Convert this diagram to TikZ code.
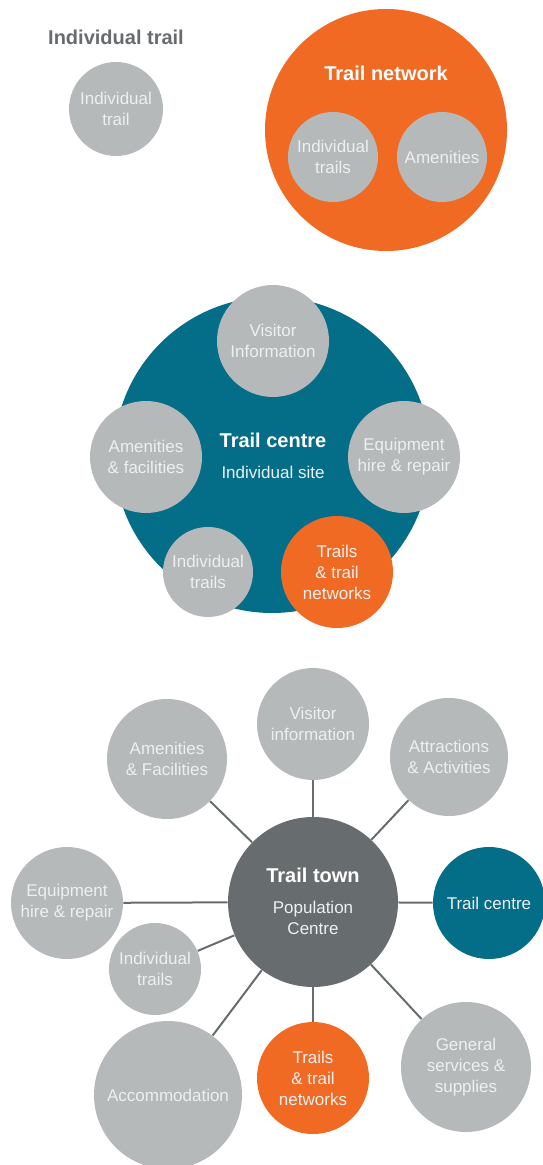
\documentclass[tikz,border=0pt]{standalone}
\usepackage{fontspec}
\setmainfont{Liberation Sans}
\definecolor{bubblegray}{RGB}{181,185,186}
\definecolor{trailorange}{RGB}{241,106,35}
\definecolor{centreteal}{RGB}{4,109,136}
\definecolor{towngray}{RGB}{103,109,110}
\definecolor{softwhite}{RGB}{238,240,240}

\begin{document}
\begin{tikzpicture}[x=0.5pt,y=-0.5pt,
  bubble/.style={circle,fill=bubblegray,inner sep=0pt,minimum size=#1pt,
    text=softwhite,align=center,font=\fontsize{8.5}{10.5}\selectfont},
  bubble/.default=45,
  head/.style={font=\fontsize{10}{12}\selectfont\bfseries,text=white},
  sub/.style={font=\fontsize{8.5}{10.5}\selectfont,text=softwhite,align=center},
  spoke/.style={line width=1pt,towngray}]
\useasboundingbox (0,0) rectangle (542,1165);

% ===== INDIVIDUAL TRAIL =====
\node[font=\fontsize{10}{12}\selectfont\bfseries,text=towngray] (singlehead) at (116,37) {Individual trail};
\node[bubble=47] (single) at (116,109) {Individual\\trail};

% ===== TRAIL NETWORK =====
\node[bubble=121,fill=trailorange] (network) at (386,130) {};
\node[head] (networkhead) at (386,73) {Trail network};
\node[bubble=45] (nettrails) at (333,157) {Individual\\trails};
\node[bubble=45] (netamen) at (442,157) {Amenities};

% ===== TRAIL CENTRE =====
\node[bubble=158,fill=centreteal] (centre) at (272,455) {};
\node[head] (centrehead) at (273,440) {Trail centre};
\node[sub] (centresub) at (273,472) {Individual site};
\node[bubble=56] (cvisit) at (273,341) {Visitor\\Information};
\node[bubble=56] (camen) at (146,457) {Amenities\\\& facilities};
\node[bubble=56] (cequip) at (404,457) {Equipment\\hire \& repair};
\node[bubble=45] (ctrails) at (208,572) {Individual\\trails};
\node[bubble=56,fill=trailorange] (cnets) at (337,572) {Trails\\\& trail\\networks};

% ===== TRAIL TOWN =====
\node[bubble=85,fill=towngray] (town) at (313,902) {};
\node[head] (townhead) at (313,875) {Trail town};
\node[sub] (townsub) at (313,918) {Population\\Centre};

\node[bubble=56] (tvisit) at (313,724) {Visitor\\information};
\node[bubble=60] (tamen) at (167,759) {Amenities\\\& Facilities};
\node[bubble=59] (tattr) at (449,757) {Attractions\\\& Activities};
\node[bubble=56,fill=centreteal] (tcentre) at (489,903) {Trail centre};
\node[bubble=56] (tequip) at (67,903) {Equipment\\hire \& repair};
\node[bubble=46] (ttrails) at (155,969) {Individual\\trails};
\node[bubble=74] (taccom) at (168,1095) {Accommodation};
\node[bubble=56,fill=trailorange] (tnets) at (313,1078) {Trails\\\& trail\\networks};
\node[bubble=65] (tserv) at (466,1067) {General\\services \&\\supplies};

% spokes out of the town
\foreach \n in {tvisit,tamen,tattr,tcentre,tequip,ttrails,taccom,tnets,tserv}
  \draw[spoke] (town) -- (\n);

\end{tikzpicture}
\end{document}
